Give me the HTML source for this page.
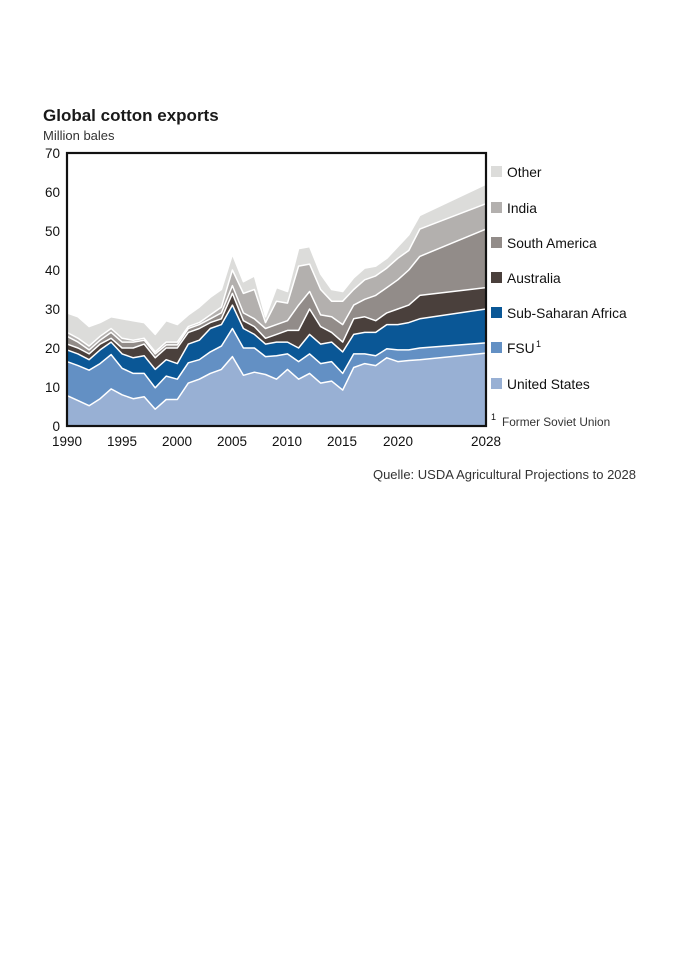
<!DOCTYPE html>
<html><head><meta charset="utf-8"><style>
body{margin:0;background:#fff;width:675px;height:954px;overflow:hidden;font-family:"Liberation Sans","DejaVu Sans",sans-serif;color:#222}
</style></head><body>
<svg id="s" width="675" height="954" xmlns="http://www.w3.org/2000/svg" style="position:absolute;left:0;top:0">
<text x="43" y="121" font-size="17" font-weight="bold" fill="#1a1a1a">Global cotton exports</text>
<text x="43" y="140" font-size="13" fill="#333">Million bales</text>
<g id="areas"></g>
<rect x="67" y="153" width="419" height="273" fill="none" stroke="#111" stroke-width="2.2"/>
<g font-size="13.5" fill="#111" text-anchor="end">
<text x="60" y="431">0</text><text x="60" y="392">10</text><text x="60" y="353">20</text><text x="60" y="314">30</text><text x="60" y="275">40</text><text x="60" y="236">50</text><text x="60" y="197">60</text><text x="60" y="158">70</text>
</g>
<g font-size="13.5" fill="#111" text-anchor="middle">
<text x="67" y="446">1990</text><text x="122" y="446">1995</text><text x="177" y="446">2000</text><text x="232" y="446">2005</text><text x="287" y="446">2010</text><text x="342" y="446">2015</text><text x="398" y="446">2020</text><text x="486" y="446">2028</text>
</g>
<g font-size="13.8" fill="#111">
<rect x="491" y="166" width="11" height="11" fill="#dcdcda"/><text x="507" y="177">Other</text>
<rect x="491" y="202" width="11" height="11" fill="#b3b0ae"/><text x="507" y="213">India</text>
<rect x="491" y="237" width="11" height="11" fill="#928c89"/><text x="507" y="248">South America</text>
<rect x="491" y="272" width="11" height="11" fill="#4a403c"/><text x="507" y="283">Australia</text>
<rect x="491" y="307" width="11" height="11" fill="#0a5796"/><text x="507" y="318">Sub-Saharan Africa</text>
<rect x="491" y="342" width="11" height="11" fill="#6390c4"/><text x="507" y="353">FSU</text><text x="536" y="347" font-size="9">1</text>
<rect x="491" y="378" width="11" height="11" fill="#98b0d4"/><text x="507" y="389">United States</text>
<text x="491" y="420" font-size="9">1</text><text x="502" y="426" font-size="11.8" fill="#333">Former Soviet Union</text>
</g>
<text x="636" y="479" font-size="13" fill="#333" text-anchor="end">Quelle: USDA Agricultural Projections to 2028</text>
</svg>
<script>
var D=[[1990,7.8,16.5,19.5,21,23,24,29],[1991,6.5,15.5,18.5,20,21.5,22.5,28],[1992,5.2,14.3,17,18.5,19.5,20.5,25.5],[1993,7,16,19.5,21,22,23,26.5],[1994,9.5,18.3,21.5,22.5,24,25,28],[1995,8,14.8,18.5,20,21.5,22.5,27.5],[1996,7,13.5,17.5,20,21.5,22,27],[1997,7.5,13.5,18,21,22,22.5,26.5],[1998,4.3,9.8,14.5,17.5,18.5,19,23.5],[1999,6.8,12.8,17,20,20.8,21.5,27],[2000,6.8,12,16,20,20.8,21.5,26],[2001,11,16.2,21,24,25,25.5,28.5],[2002,12,17,22,25,26,26.5,30.5],[2003,13.5,19,25,26.5,27.5,28.5,33],[2004,14.5,20.5,26,27.5,29,30.5,35],[2005,17.8,25,31,34,36,40,44],[2006,13,20,25,27,29,34,37],[2007,13.8,20,23.5,25.5,27.5,35,38.5],[2008,13.2,17.8,21,22.5,25,26.5,28],[2009,12,18,21.5,23.5,26,32,35.5],[2010,14.5,18.5,21.5,24.5,27,31.5,34.5],[2011,12,16.5,20,24.5,31,41,45.5],[2012,13.5,18.5,23.5,30,34.5,41.5,46],[2013,11,16,21,25.5,28.5,35,39],[2014,11.5,16.5,21.5,24,28,32,35],[2015,9.2,13.5,19,21.5,26,32,34.5],[2016,15,18.5,23.5,27.5,31,35,38],[2017,16,18.5,24,28,32.5,37.5,40.5],[2018,15.5,18,24,27,33.5,38.5,41],[2019,17.5,19.8,26,29,35.5,40.5,43],[2020,16.5,19.5,26,30,37.5,43,46],[2021,16.8,19.5,26.5,31,40,45,49],[2022,17,20,27.5,33.5,43.5,50.5,54],[2028,18.7,21.3,30,35.5,50.5,57,62]];
var C=["#98b0d4","#6390c4","#0a5796","#4a403c","#928c89","#b3b0ae","#dcdcda"];
function X(y){return 67+(y-1990)*419/38}function Y(v){return 426-v*3.9}
var g=document.getElementById('areas'),h='';
for(var k=6;k>=0;k--){var p=D.map(function(r){return X(r[0]).toFixed(1)+','+Y(r[k+1]).toFixed(1)});
p.push('486,426','67,426');h+='<polygon points="'+p.join(' ')+'" fill="'+C[k]+'" stroke="#fff" stroke-width="1.5" stroke-linejoin="round"/>';}
g.innerHTML=h;
</script>
</body></html>
